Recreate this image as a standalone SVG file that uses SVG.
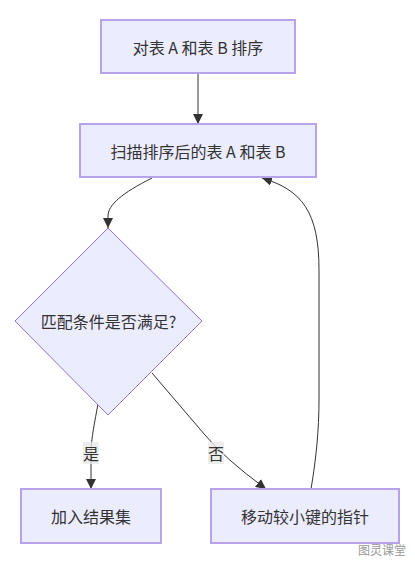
<svg xmlns="http://www.w3.org/2000/svg" width="415" height="564" viewBox="0 0 415 564">
<style>
.node{fill:#ECECFF;stroke:#b7a3eb;stroke-width:2}
.dia{fill:#ECECFF;stroke:#9370DB;stroke-width:1}
.lbl{font-family:"Noto Sans CJK SC","Liberation Sans",sans-serif;font-size:16px;fill:#333;text-anchor:middle;dominant-baseline:central}
.edge{fill:none;stroke:#333;stroke-width:1}
.elbg{fill:#e8e8e8;opacity:0.8}
</style>
<defs>
<marker id="arr" viewBox="0 0 10 10" refX="10" refY="5" markerWidth="10" markerHeight="10" markerUnits="userSpaceOnUse" orient="auto">
<path d="M0,0 L10,5 L0,10 z" fill="#333"/>
</marker>
</defs>
<rect width="415" height="564" fill="#fff"/>
<g id="edges">
<path class="edge" d="M198,74 L198,124" marker-end="url(#arr)"/>
<path class="edge" d="M152,178 C122,193 108,205 108,216 L108,228" marker-end="url(#arr)"/>
<path class="edge" d="M98,404 C95,420 91,440 91,452 L91,489" marker-end="url(#arr)"/>
<path class="edge" d="M152,373 L205,435 Q224,458 266,489" marker-end="url(#arr)"/>
<path class="edge" d="M311,489 C316,460 319,430 319,400 L319,270 C319,212 302,190 262,178" marker-end="url(#arr)"/>
</g>
<g id="edge-labels">
<rect class="elbg" x="83" y="442" width="16" height="22"/>
<text class="lbl" x="91" y="453">是</text>
<rect class="elbg" x="208" y="442" width="16" height="22"/>
<text class="lbl" x="216" y="453">否</text>
</g>
<g id="A">
<rect class="node" x="101" y="20" width="194" height="53"/>
<text class="lbl" x="198" y="46.5">对表 A 和表 B 排序</text>
</g>
<g id="B">
<rect class="node" x="80" y="124" width="236" height="53"/>
<text class="lbl" x="198" y="150.5">扫描排序后的表 A 和表 B</text>
</g>
<g id="C">
<polygon class="dia" points="108,228 202,321 108,415 15,321"/>
<text class="lbl" x="108.5" y="321">匹配条件是否满足?</text>
</g>
<g id="D">
<rect class="node" x="21" y="489" width="140" height="54"/>
<text class="lbl" x="91" y="516">加入结果集</text>
</g>
<g id="E">
<rect class="node" x="211" y="489" width="188" height="54"/>
<text class="lbl" x="305" y="516">移动较小键的指针</text>
</g>
<text x="382" y="549" font-family="Noto Sans CJK SC,sans-serif" font-size="12" fill="#999" text-anchor="middle" dominant-baseline="central">图灵课堂</text>
</svg>
